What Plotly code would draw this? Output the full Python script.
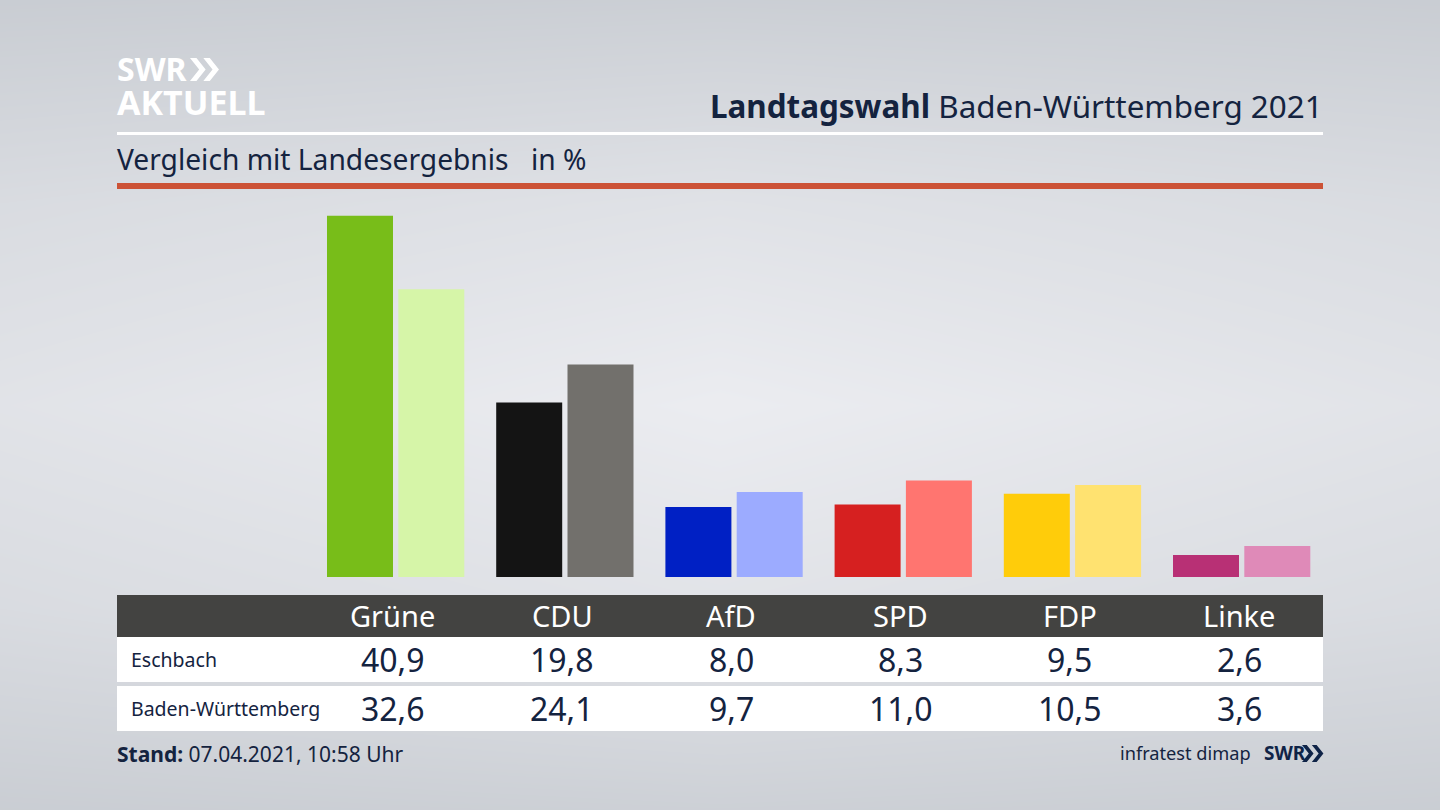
import plotly.graph_objects as go

parties = ["Grüne", "CDU", "AfD", "SPD", "FDP", "Linke"]
eschbach = [40.9, 19.8, 8.0, 8.3, 9.5, 2.6]
land = [32.6, 24.1, 9.7, 11.0, 10.5, 3.6]
row_names = ["Eschbach", "Baden-Württemberg"]
colors_local = ["#78bd19", "#141414", "#0020c4", "#d62020", "#ffcc0a", "#b83075"]
colors_land = ["#d6f5a8", "#72706c", "#9cabff", "#ff7570", "#ffe270", "#df8ab8"]

W, H = 1440, 810
INK = "#14233f"
FONT = "Noto Sans"
STEP = 169.2     # px per party
BAR = 66 / STEP  # bar width in category units
GAP = 5.3 / STEP
SCALE = 8.86     # px per percentage point


def fx(p):
    return p / W


def fy(p):
    return 1 - p / H


def de(v):
    return f"{v:.1f}".replace(".", ",")


fig = go.Figure()

# soft vertical/horizontal background gradient on a full-page hidden subplot
bg_y = [0, 0.25, 0.5, 0.75, 1]
bg_x = [0, 0.5, 1]
bg_z = [
    [0.10, 0.18, 0.10],
    [0.50, 0.72, 0.50],
    [0.72, 0.98, 0.72],
    [0.50, 0.68, 0.50],
    [0.08, 0.14, 0.08],
]
fig.add_trace(go.Heatmap(x=bg_x, y=bg_y, z=bg_z, zmin=0, zmax=1, zsmooth="best", showscale=False,
                         colorscale=[[0, "#c6cad0"], [1, "#ecedf1"]], hoverinfo="skip",
                         xaxis="x", yaxis="y"))

fig.add_trace(go.Bar(x=parties, y=eschbach, name=row_names[0], marker_color=colors_local,
                     marker_line_width=0, width=BAR, offset=-BAR, xaxis="x2", yaxis="y2"))
fig.add_trace(go.Bar(x=parties, y=land, name=row_names[1], marker_color=colors_land,
                     marker_line_width=0, width=BAR, offset=GAP, xaxis="x2", yaxis="y2"))

shapes = []


def rect(x0, y0, x1, y1, color):
    shapes.append(dict(type="rect", xref="paper", yref="paper", x0=fx(x0), x1=fx(x1), y0=fy(y1), y1=fy(y0),
                       fillcolor=color, line_width=0))


rect(117, 132, 1323, 135, "#ffffff")
rect(117, 183, 1323, 189, "#cc5236")
rect(117, 595, 1323, 637, "#434341")
rect(117, 637, 1323, 682, "#ffffff")
rect(117, 686, 1323, 731, "#ffffff")


def chevrons(x, y, h, color):
    """two double-arrow chevrons, x/y = top-left in px"""
    t = h * 0.28
    for dx in (0, h * 0.58):
        pts = [(x + dx, y), (x + dx + t, y), (x + dx + t + h * 0.40, y + h / 2),
               (x + dx + t, y + h), (x + dx, y + h), (x + dx + h * 0.40, y + h / 2)]
        path = "M " + " L ".join(f"{fx(a):.5f},{fy(b):.5f}" for a, b in pts) + " Z"
        shapes.append(dict(type="path", xref="paper", yref="paper", path=path, fillcolor=color, line_width=0))


chevrons(190, 58, 23, "#ffffff")
chevrons(1302, 745, 17, "#0f2347")

ann = []


def text(x, y, s, size, color=INK, anchor="left", family=FONT):
    ann.append(dict(xref="paper", yref="paper", x=fx(x), y=fy(y), text=s, showarrow=False, xanchor=anchor,
                    yanchor="middle", font=dict(size=size, color=color, family=family), align=anchor))


text(115, 69, "<b>SWR</b>", 32, "#ffffff")
text(115, 102, "<b>AKTUELL</b>", 34, "#ffffff")
text(1325, 105, "<b>Landtagswahl</b> Baden-Württemberg 2021", 31.4, anchor="right")
text(115, 159, "Vergleich mit Landesergebnis", 28.2)
text(529, 159, "in %", 28.2)
text(129, 659, row_names[0], 19.5)
text(129, 708, row_names[1], 19.5)
text(115, 754, "<b>Stand:</b> 07.04.2021, 10:58 Uhr", 21)
text(1253, 753, "infratest dimap", 18.2, anchor="right")
text(1262, 753, "<b>SWR</b>", 19, "#0f2347")

centers = [393 + i * STEP for i in range(6)]
for c, p, a, b in zip(centers, parties, eschbach, land):
    text(c, 615, p, 29, "#ffffff", anchor="center")
    text(c, 659, de(a), 32, anchor="center")
    text(c, 708, de(b), 32, anchor="center")

hidden = dict(visible=False, showgrid=False, zeroline=False, fixedrange=True)
fig.update_layout(
    width=W, height=H, margin=dict(l=0, r=0, t=0, b=0), autosize=False,
    paper_bgcolor="#dfe1e6", plot_bgcolor="rgba(0,0,0,0)", showlegend=False,
    barmode="overlay",
    shapes=shapes, annotations=ann,
    xaxis=dict(domain=[0, 1], range=[0, 1], **hidden),
    yaxis=dict(domain=[0, 1], range=[0, 1], **hidden),
    xaxis2=dict(domain=[fx(393 - STEP / 2), fx(393 + 5.5 * STEP)], range=[-0.5, 5.5], type="category",
                anchor="y2", **hidden),
    yaxis2=dict(domain=[fy(577), fy(190)], range=[1 / SCALE, 388 / SCALE], anchor="x2", **hidden),
)

fig.write_html("out.html", config={"displayModeBar": False},
               post_script="document.body.style.margin='0';document.body.style.overflow='hidden';")
